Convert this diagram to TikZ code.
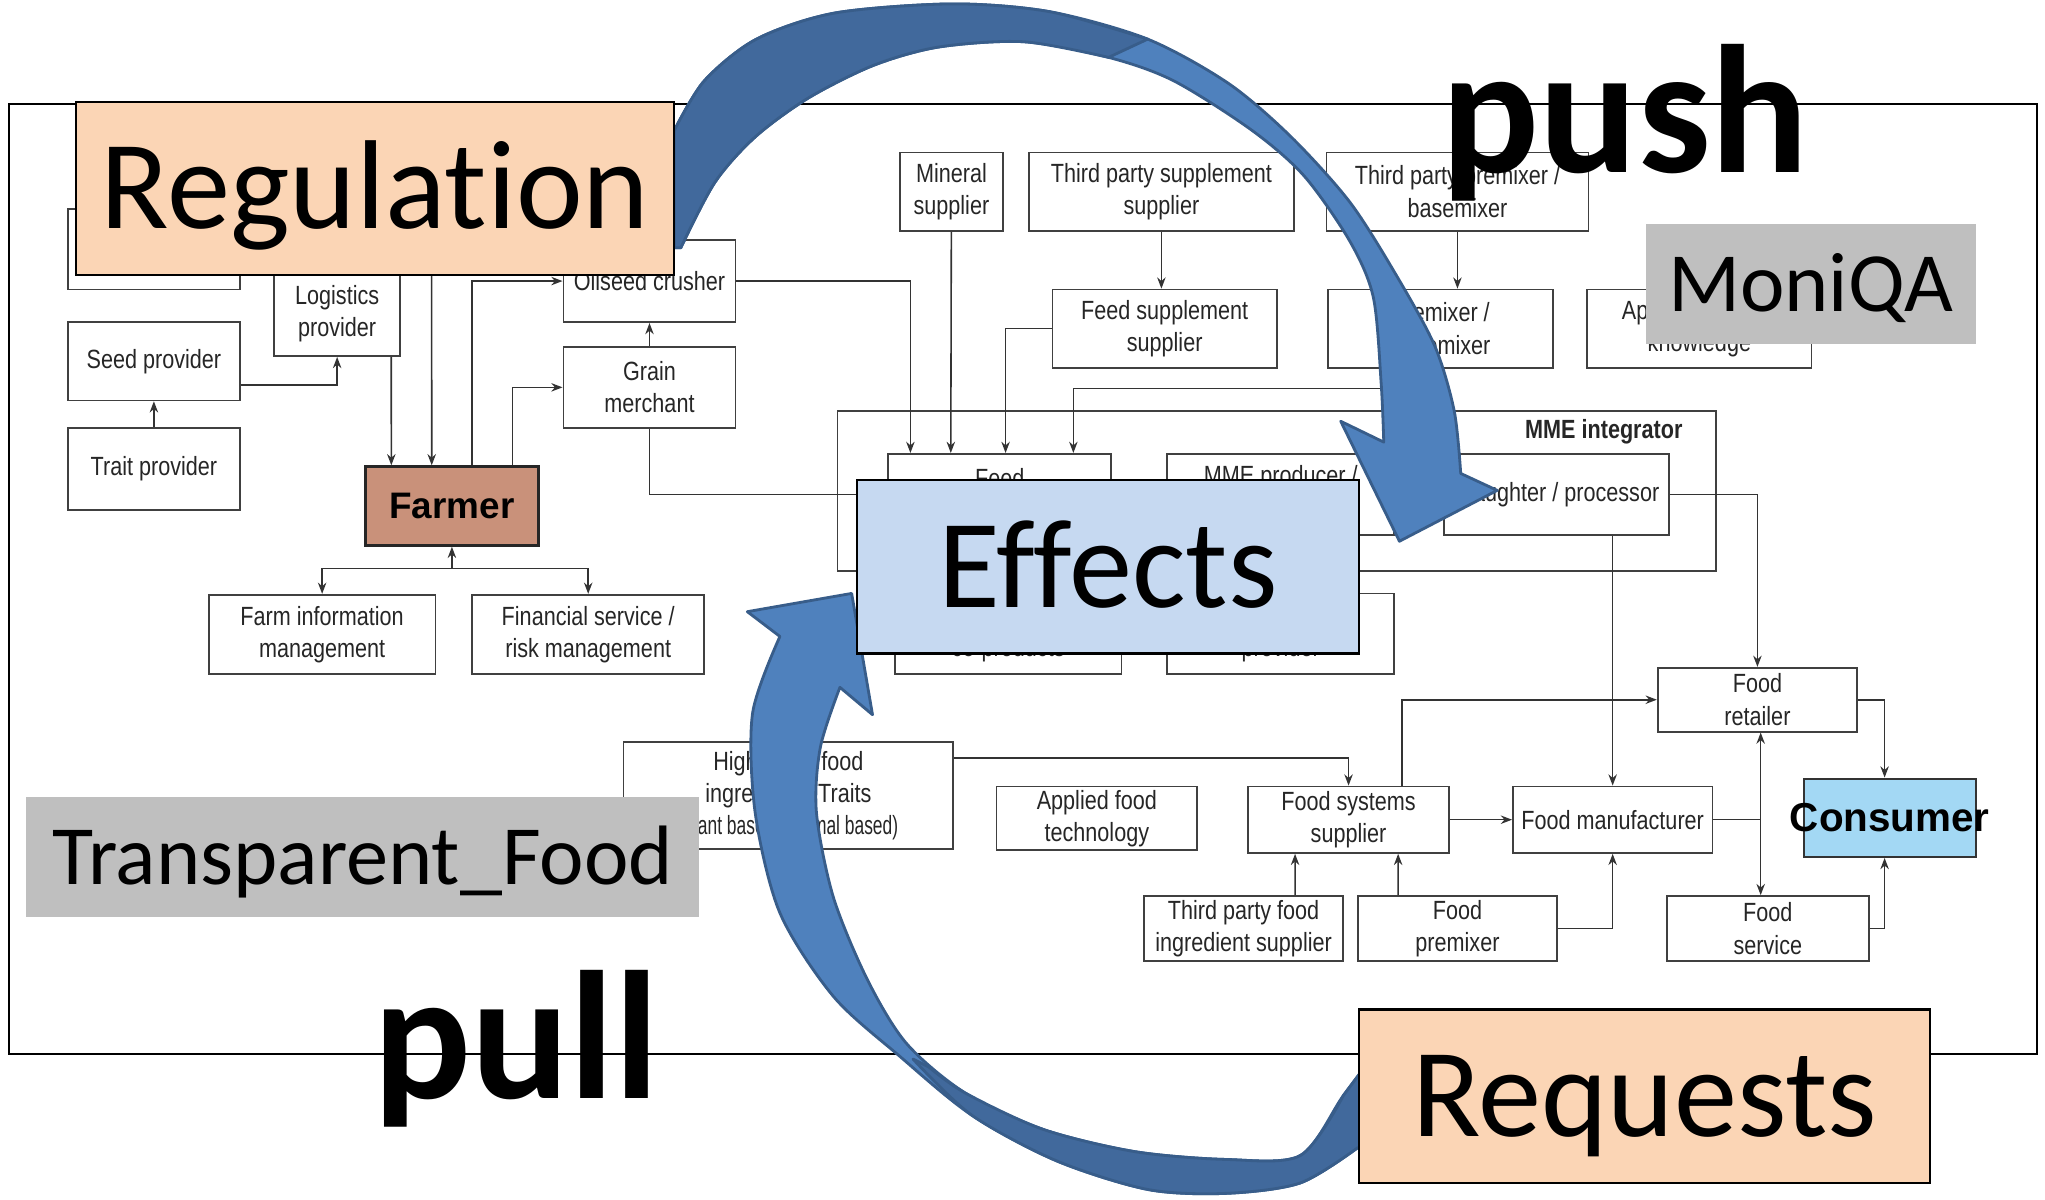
\documentclass[tikz,border=0pt]{standalone}
\usepackage{fontspec}
\usepackage{xcolor}
\usetikzlibrary{arrows.meta, positioning}
\newfontfamily\calibri[Ligatures={NoCommon}]{Carlito}
\newfontfamily\diagfont[FakeStretch=0.82]{Liberation Sans}
\newfontfamily\narrowfont[FakeStretch=0.66]{Liberation Sans}
\newfontfamily\arialfont{Liberation Sans}
\definecolor{peach}{HTML}{FBD5B5}
\definecolor{effblue}{HTML}{C6D9F1}
\definecolor{taggray}{HTML}{BFBFBF}
\definecolor{arrowblue}{HTML}{4F81BD}
\definecolor{arrowback}{HTML}{41699C}
\definecolor{arrowedge}{HTML}{385D8A}
\definecolor{farmerbrown}{HTML}{C9917A}
\definecolor{consblue}{HTML}{A3D8F4}

\begin{document}
\begin{tikzpicture}[
    x=0.013042cm, y=-0.013042cm,
    >={Stealth[length=3.2pt, width=2.4pt]},
    blk/.style={rectangle, draw=black!75, line width=0.5pt, fill=white, align=center, inner sep=0pt, text=black!85, font=\diagfont\fontsize{7.5}{9.2}\selectfont},
    grp/.style={rectangle, draw=black!75, line width=0.5pt, inner sep=0pt},
    grplabel/.style={inner sep=0pt, text=black!85, font=\diagfont\bfseries\fontsize{7.5}{9}\selectfont},
    conn/.style={draw=black!80, line width=0.45pt, ->},
    farmerbox/.style={rectangle, draw=black!85, line width=0.9pt, fill=farmerbrown, inner sep=0pt, font=\arialfont\bfseries\fontsize{10.5}{12}\selectfont},
    consbox/.style={rectangle, draw=black!80, line width=0.6pt, fill=consblue, inner ysep=0pt, inner xsep=-6pt, font=\arialfont\bfseries\fontsize{11.5}{13}\selectfont},
    callout/.style={rectangle, draw=black, line width=0.7pt, fill=peach, inner sep=0pt, text height=23pt, text depth=0pt, font=\calibri\fontsize{36}{40}\selectfont},
    tag/.style={rectangle, fill=taggray, inner sep=0pt, text height=15.5pt, text depth=0pt, font=\calibri\fontsize{24}{28}\selectfont},
    bigword/.style={inner sep=0pt, font=\calibri\bfseries\fontsize{52}{56}\selectfont},
    bigarrow/.style={fill=arrowblue, draw=arrowedge, line width=0.8pt, line join=round},
    backarrow/.style={fill=arrowback, draw=arrowedge, line width=0.8pt, line join=round}
]
\useasboundingbox (0,0) rectangle (1568,920);

% outer frame of the chain picture
\draw[black, line width=0.6pt] (7,80) rectangle (1562,808);

% --- farm side ---
\node[blk, minimum width=1.722cm, minimum height=0.809cm] (hidbox) at (118,191) {};
\node[blk, minimum width=1.265cm, minimum height=0.848cm] (logist) at (258.5,240.5) {Logistics\\provider};
\node[blk, minimum width=1.722cm, minimum height=0.783cm] (seed) at (118,277) {Seed provider};
\node[blk, minimum width=1.722cm, minimum height=0.822cm] (trait) at (118,359.5) {Trait provider};
\node[blk, minimum width=1.722cm, minimum height=0.822cm] (crusher) at (498,215.5) {Oilseed crusher};
\node[blk, minimum width=1.722cm, minimum height=0.809cm] (grain) at (498,297) {Grain\\merchant};
\node[farmerbox, minimum width=1.735cm, minimum height=0.783cm] (farmer) at (346.5,388) {Farmer};
\node[blk, minimum width=2.269cm, minimum height=0.796cm] (farminfo) at (247,486.5) {Farm information\\management};
\node[blk, minimum width=2.321cm, minimum height=0.796cm] (finance) at (451,486.5) {Financial service /\\risk management};

% --- feed side ---
\node[blk, minimum width=1.030cm, minimum height=0.783cm] (mineral) at (729.5,147) {Mineral\\supplier};
\node[blk, minimum width=2.648cm, minimum height=0.783cm] (tpsupp) at (890.5,147) {Third party supplement\\supplier};
\node[blk, minimum width=2.621cm, minimum height=0.783cm] (tppremix) at (1117.5,147) {Third party premixer /\\basemixer};
\node[blk, minimum width=2.243cm, minimum height=0.783cm] (feedsupp) at (893,252) {Feed supplement\\supplier};
\node[blk, minimum width=2.256cm, minimum height=0.783cm] (premix) at (1104.5,252) {Premixer /\\basemixer};
\node[blk, minimum width=2.243cm, minimum height=0.783cm] (applied) at (1303,252) {Applied nutrition\\knowledge};

% --- MME integrator group ---
\node[grp, minimum width=8.790cm, minimum height=1.604cm] (integr) at (979,376.5) {};
\node[grplabel, anchor=north east] (mmelbl) at ([xshift=-0.339cm, yshift=-0.09cm]integr.north east) {MME integrator};
\node[blk, minimum width=2.230cm, minimum height=0.809cm] (feed) at (766.5,379) {Feed\\manufacturer};
\node[blk, minimum width=2.269cm, minimum height=0.809cm] (mmeprod) at (982,379) {MME producer /\\grower};
\node[blk, minimum width=2.256cm, minimum height=0.809cm] (slaughter) at (1193.5,379) {Slaughter / processor};
\node[blk, minimum width=2.269cm, minimum height=0.809cm] (coprod) at (773,486) {By-products /\\co-products};
\node[blk, minimum width=2.269cm, minimum height=0.809cm] (vet) at (982,486) {Animal health\\provider};

% --- food side ---
\node[blk, minimum width=3.300cm, minimum height=1.069cm] (highval) at (604.5,610) {High value food\\ingredient / Traits\\{\narrowfont(plant based / animal based)}};
\node[blk, minimum width=2.008cm, minimum height=0.639cm] (appfood) at (841,627.5) {Applied food\\technology};
\node[blk, minimum width=2.008cm, minimum height=0.665cm] (foodsys) at (1034,628.5) {Food systems\\supplier};
\node[blk, minimum width=1.995cm, minimum height=0.665cm] (foodman) at (1236.5,628.5) {Food manufacturer};
\node[blk, minimum width=1.995cm, minimum height=0.639cm] (retail) at (1347.5,536.5) {Food\\retailer};
\node[consbox, minimum width=1.722cm, minimum height=0.783cm] (consumer) at (1449,627) {Consumer};
\node[blk, minimum width=1.995cm, minimum height=0.652cm] (tpfood) at (953.5,712) {Third party food\\ingredient supplier};
\node[blk, minimum width=1.995cm, minimum height=0.652cm] (foodpremix) at (1117.5,712) {Food\\premixer};
\node[blk, minimum width=2.021cm, minimum height=0.652cm] (foodserv) at (1355.5,712) {Food\\service};

% connectors
\coordinate (regcut) at (331,211);
\coordinate (pmbend) at (823,298);
\coordinate (fjn) at (346.5,436);
\coordinate (mjn) at (1350,628.5);
\draw[conn] (trait) -- (seed);
\draw[conn] ([yshift=-0.235cm]seed.east) -| (logist);
\draw[conn] ([xshift=0.541cm]logist.south) -- ([xshift=-0.606cm]farmer.north);
\draw[conn] (regcut) -- ([xshift=-0.202cm]farmer.north);
\draw[conn] ([xshift=0.202cm]farmer.north) |- (crusher);
\draw[conn] ([xshift=0.606cm]farmer.north) |- (grain);
\draw[conn] (grain) -- (crusher);
\draw[conn] (grain) |- (feed);
\draw[conn] (crusher) -| ([xshift=-0.893cm]feed.north);
\draw[conn] (mineral) -- ([xshift=-0.489cm]feed.north);
\draw[conn] (feedsupp) -| ([xshift=0.059cm]feed.north);
\draw[conn] ([xshift=-0.580cm]premix.south) |- (pmbend) -- (pmbend |- feed.north);
\draw[conn] (tpsupp) -- (tpsupp |- feedsupp.north);
\draw[conn] (tppremix) -- (tppremix |- premix.north);
\draw[conn] (fjn) -- (farmer);
\draw[conn] (fjn) -| (farminfo);
\draw[conn] (fjn) -| (finance);
\draw[conn] (slaughter) -| (retail);
\draw[conn] (foodman.north |- slaughter.south) -- (foodman);
\draw[conn] ([yshift=0.378cm]highval.east) -| (foodsys);
\draw[conn] ([xshift=0.535cm]foodsys.north) |- (retail);
\draw[conn] (foodsys) -- (foodman);
\draw[conn] ([xshift=0.515cm]tpfood.north) -- ([xshift=-0.535cm]foodsys.south);
\draw[conn] ([xshift=-0.593cm]foodpremix.north) -- ([xshift=0.496cm]foodsys.south);
\draw[conn] (foodpremix) -| (foodman);
\draw[conn] (foodman) -| (mjn |- retail.south);
\draw[conn] (mjn) -- (mjn |- foodserv.north);
\draw[conn] (retail) -| ([xshift=-0.052cm]consumer.north);
\draw[conn] (foodserv) -| ([xshift=-0.052cm]consumer.south);

% push arrow
\filldraw[bigarrow]
  plot[smooth] coordinates {(517,100) (540,62) (580,30) (640,10) (730,3) (805,9) (880,30) (942,64) (990,105) (1035,155) (1070,210) (1100,265) (1115,315) (1120,363)}
  -- (1148,376) -- (1073,415) -- (1028,323)
  -- plot[smooth] coordinates {(1061,339) (1059,294) (1053,228) (1035,185) (1000,135) (960,100) (900,62) (850,44) (785,32) (720,36) (670,50) (620,75) (579,105) (548,140) (522,190)}
  -- (517,190) -- cycle;
\filldraw[backarrow]
  plot[smooth] coordinates {(517,100) (540,62) (580,30) (640,10) (730,3) (805,9) (880,30)}
  -- plot[smooth] coordinates {(850,44) (785,32) (720,36) (670,50) (620,75) (579,105) (548,140) (522,190)}
  -- (517,190) -- cycle;

% pull arrow
\filldraw[bigarrow]
  (573,469) -- (653,455) -- (669,548)
  -- plot[smooth] coordinates {(644,527) (629,573) (626,623) (639,688) (665,751) (695,800) (740,838) (800,866) (870,883) (940,889) (997,886) (1030,840) (1060,800)}
  -- (1060,880)
  -- plot[smooth] coordinates {(1041,880) (997,907) (940,915) (880,912) (810,890) (745,855) (690,810) (639,764) (598,700) (579,623) (577,547) (598,488)}
  -- cycle;
\filldraw[backarrow]
  plot[smooth] coordinates {(700,812) (745,855) (810,890) (880,912) (940,915) (997,907) (1041,880)}
  -- (1060,880) -- (1060,800)
  -- plot[smooth] coordinates {(1030,840) (997,886) (940,889) (870,883) (800,866) (740,838) (712,818)}
  -- cycle;

% overlay labels
\node[callout, minimum width=5.986cm, minimum height=1.735cm] (regul) at (287.5,144.5) {Regulation};
\node[callout, fill=effblue, minimum width=5.021cm, minimum height=1.735cm] (effects) at (849.5,434.5) {Effects};
\node[callout, minimum width=5.712cm, minimum height=1.735cm] (requests) at (1261,840.5) {Requests};
\node[tag, minimum width=3.300cm, minimum height=1.200cm] (moniqa) at (1388.5,218) {MoniQA};
\node[tag, minimum width=6.730cm, minimum height=1.200cm] (tfood) at (278,657) {Transparent\_Food};
\node[bigword, anchor=base west] (push) at (1105,132) {push};
\node[bigword, anchor=base west] (pull) at (286,842) {pull};

\end{tikzpicture}
\end{document}
